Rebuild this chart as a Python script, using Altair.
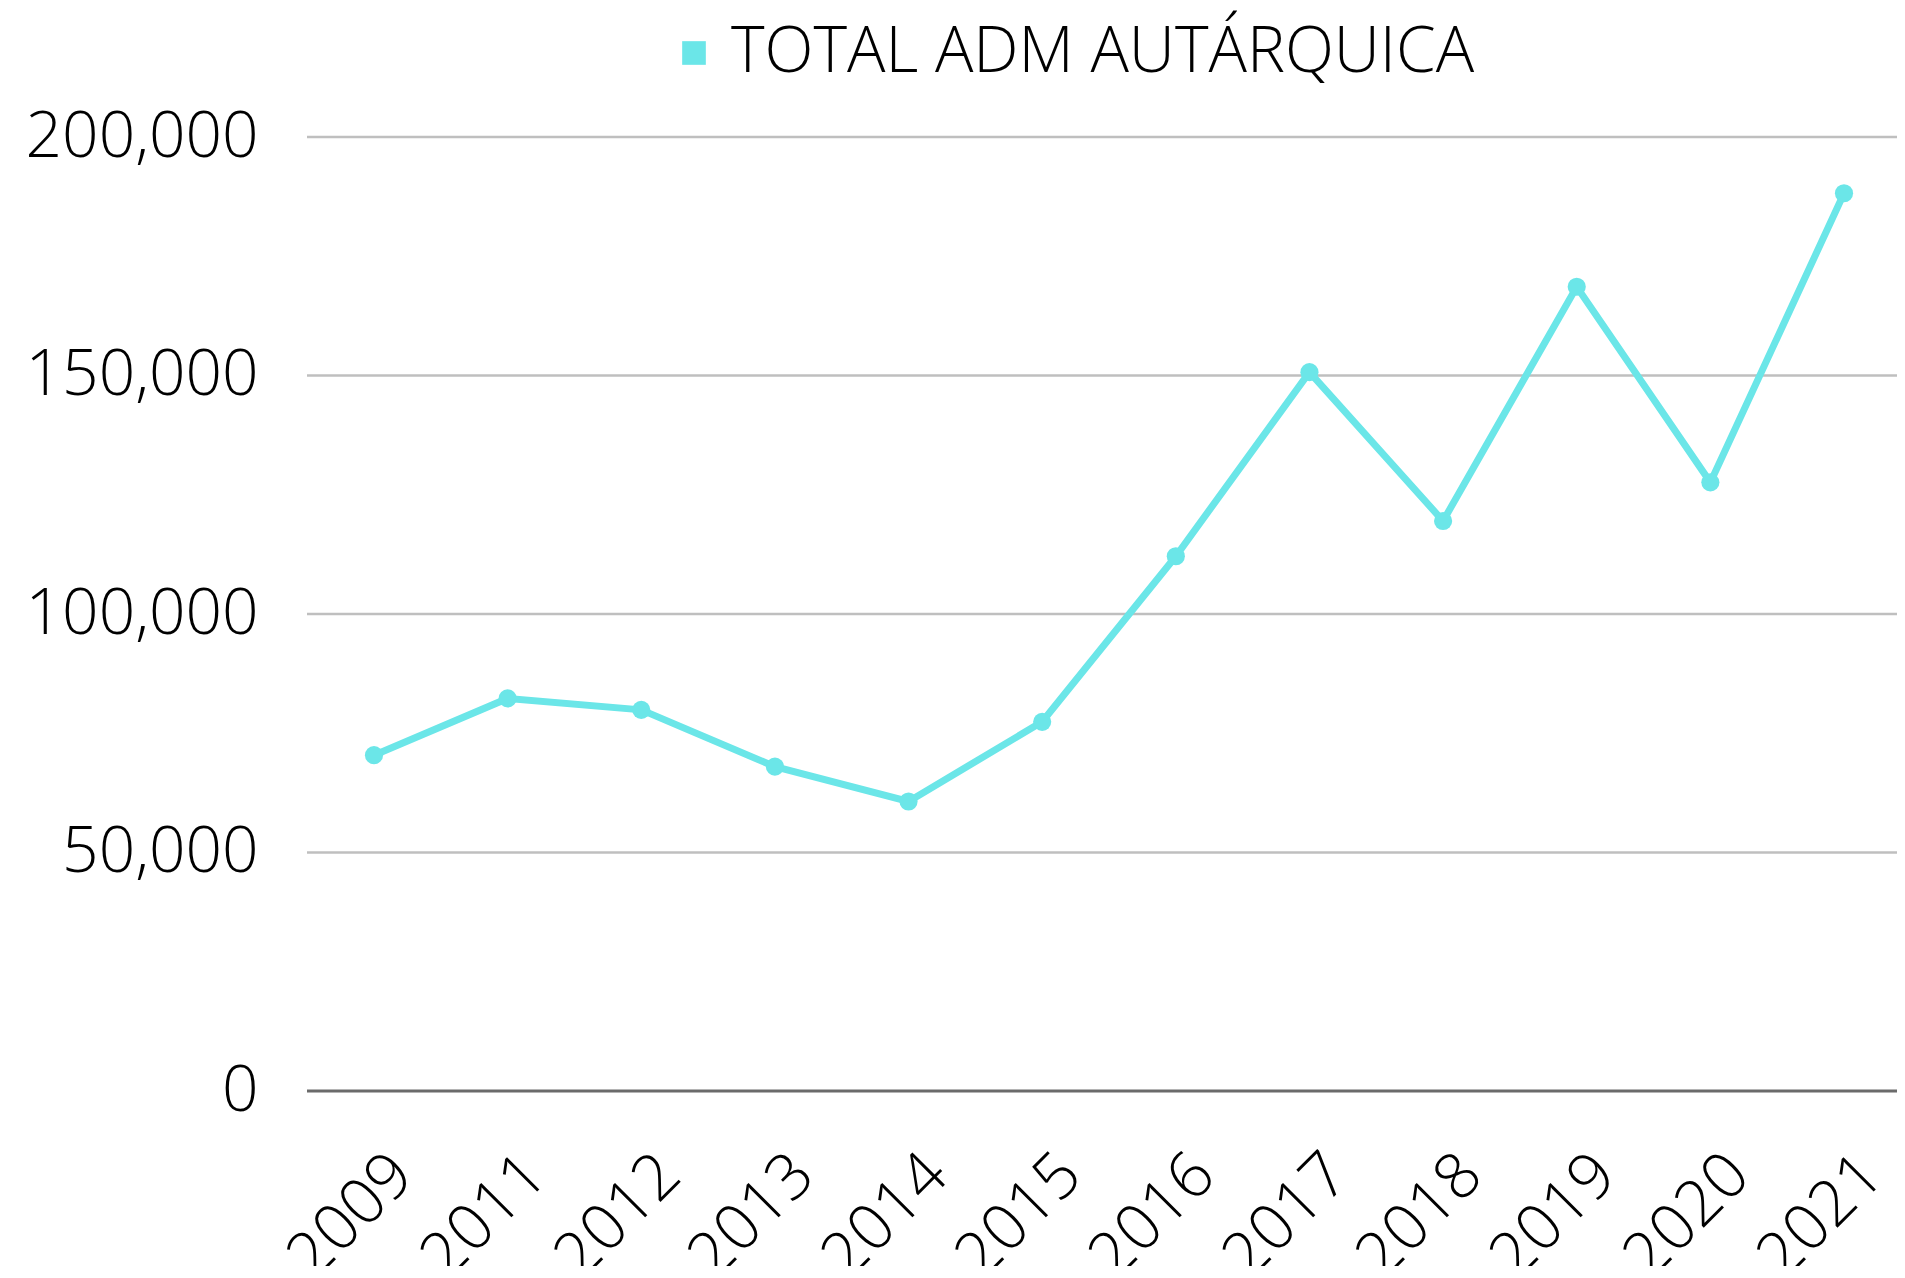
import altair as alt
import pandas as pd

years = ["2009", "2011", "2012", "2013", "2014", "2015", "2016", "2017", "2018", "2019", "2020", "2021"]
values = [70400, 82300, 79900, 68000, 60700, 77400, 112100, 150700, 119500, 168600, 127600, 188200]
series = ["TOTAL ADM AUTÁRQUICA"] * len(years)
y_ticks = [0, 50000, 100000, 150000, 200000]

df = pd.DataFrame({"year": years, "value": values, "series": series})
grid_df = pd.DataFrame({"value": y_ticks[1:]})
zero_df = pd.DataFrame({"value": [0]})

COLOR = "#6be6e8"
FONT = "Open Sans"
W, H = 1590, 954

x = alt.X("year:O", sort=years, scale=alt.Scale(range=[67, 1537], padding=0),
          axis=alt.Axis(title=None, labelAngle=-45, labelFontSize=64, labelFont=FONT,
                        labelFontWeight=300, labelColor="#000000", ticks=False,
                        domain=False, labelPadding=51, labelOffset=6, grid=False,
                        labelLimit=1000))
yscale = alt.Scale(domain=[0, 200000], nice=False)
yaxis = alt.Axis(title=None, values=y_ticks, format=",d", labelFontSize=64,
                 labelFont=FONT, labelFontWeight=300, labelColor="#000000",
                 ticks=False, domain=False, grid=False,
                 labelPadding=49, labelLimit=1000)
y = alt.Y("value:Q", scale=yscale, axis=yaxis)
color = alt.Color("series:N", scale=alt.Scale(range=[COLOR]),
                  legend=alt.Legend(title=None, orient="none", legendX=355, legendY=-116,
                                    symbolType="square", symbolSize=560,
                                    symbolFillColor=COLOR, symbolStrokeColor=COLOR,
                                    symbolStrokeWidth=0, labelFontSize=64, labelFont=FONT,
                                    labelFontWeight=300, labelColor="#000000",
                                    labelLimit=2000, labelOffset=5))

grid = alt.Chart(grid_df).mark_rule(color="#bfbfbf", strokeWidth=2.5).encode(
    y=y, x=alt.value(0), x2=alt.value(W))
zero = alt.Chart(zero_df).mark_rule(color="#6b6b6b", strokeWidth=3).encode(
    y=y, x=alt.value(0), x2=alt.value(W))

line = alt.Chart(df).mark_line(strokeWidth=7).encode(x=x, y=y, color=color)
pts = alt.Chart(df).mark_circle(size=330, opacity=1).encode(x=x, y=y, color=color)

chart = (grid + zero + line + pts).properties(
    width=W, height=H,
    autosize=alt.AutoSizeParams(type="none"),
    padding={"left": 299, "top": 129, "right": 0, "bottom": 175},
    background="white",
).configure_view(stroke=None)

chart.save("out.html", embed_options={"renderer": "svg", "actions": False})
